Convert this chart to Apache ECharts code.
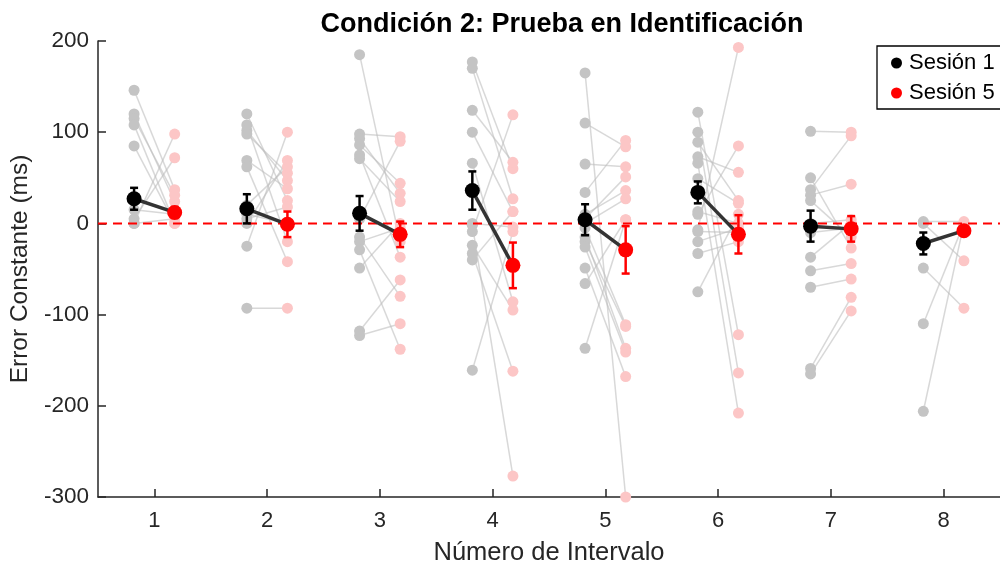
<!DOCTYPE html>
<html>
<head>
<meta charset="utf-8">
<script src="https://cdn.jsdelivr.net/npm/echarts@6/dist/echarts.min.js"></script>
<style>
  html, body { margin: 0; padding: 0; background: #fff; }
  #main { width: 1000px; height: 571px; }
</style>
</head>
<body>
<div id="main"></div>
<script>
// intervalos en el eje x
const intervalos = [1, 2, 3, 4, 5, 6, 7, 8]
const desplazamiento = 0.18

// datos individuales (cada posición = un sujeto, emparejado entre sesiones)
const sesion1 = [
  [146, 120, 115, 108, 85, 15, 5, 0, 0],
  [120, 108, 102, 98, 69, 62, 20, 5, -25, -93, 0, 10],
  [185, 98, 93, 86, 75, 71, 5, -15, -20, -29, -49, -118, -123],
  [177, 170, 124, 100, 66, 0, -2, -9, -24, -33, -40, -161],
  [165, 110, 65, 34, 10, 5, 0, -5, -15, -20, -26, -49, -66, -137],
  [122, 100, 89, 73, 66, 49, 13, 10, -7, -9, -20, -33, -75],
  [101, 50, 37, 31, 25, 0, -10, -37, -52, -70, -159, -165],
  [2, 0, -49, -110, -206]
]
const sesion5 = [
  [37, 24, 31, 0, 0, 10, 72, 98, 5],
  [25, -20, 47, 55, 38, -42, 62, 18, 100, -93, 69, 0],
  [-20, 95, 33, 44, -37, 24, 90, -80, -5, -138, 0, -62, -110],
  [60, 27, 67, 13, -86, -4, -277, 119, -95, -162, 13, -9],
  [-300, 84, 62, 91, 36, 51, 27, -111, -137, -113, -141, -168, 4, 4],
  [-122, -164, 25, 56, -208, 22, 0, 85, 193, -10, -5, -20, 10],
  [100, -27, 96, 43, -15, 4, -5, 0, -44, -61, -81, -96],
  [2, -41, -93, 0, 0]
]

// medias y error estándar
const media1 = [27, 16, 11, 36, 4, 34, -3, -22]
const media5 = [12, -1, -12, -46, -29, -12, -6, -8]
const ee1 = [12, 16, 19, 21, 17, 12, 17, 12]
const ee5 = [6, 14, 14, 25, 26, 21, 14, 4]

const colorEje = '#262626'
const fuente = 'Liberation Sans'

// construir puntos y segmentos
const puntos1 = []
const puntos5 = []
const segmentos = []
intervalos.forEach((x, i) => {
  sesion1[i].forEach((v, j) => {
    const x1 = x - desplazamiento
    const x2 = x + desplazamiento
    puntos1.push([x1, v])
    puntos5.push([x2, sesion5[i][j]])
    segmentos.push([x1, v, x2, sesion5[i][j]])
  })
})
const med1 = intervalos.map((x, i) => [x - desplazamiento, media1[i]])
const med5 = intervalos.map((x, i) => [x + desplazamiento, media5[i]])
const segMedias = intervalos.map((x, i) => [x - desplazamiento, media1[i], x + desplazamiento, media5[i]])
const barras1 = intervalos.map((x, i) => [x - desplazamiento, media1[i] - ee1[i], media1[i] + ee1[i]])
const barras5 = intervalos.map((x, i) => [x + desplazamiento, media5[i] - ee5[i], media5[i] + ee5[i]])

function segmentoRender(color, ancho) {
  return function (params, api) {
    const a = api.coord([api.value(0), api.value(1)])
    const b = api.coord([api.value(2), api.value(3)])
    return {
      type: 'line',
      shape: { x1: a[0], y1: a[1], x2: b[0], y2: b[1] },
      style: { stroke: color, lineWidth: ancho }
    }
  }
}

function barraRender(color) {
  return function (params, api) {
    const lo = api.coord([api.value(0), api.value(1)])
    const hi = api.coord([api.value(0), api.value(2)])
    const w = 4
    return {
      type: 'group',
      children: [
        { type: 'line', shape: { x1: lo[0], y1: lo[1], x2: hi[0], y2: hi[1] }, style: { stroke: color, lineWidth: 2.5 } },
        { type: 'line', shape: { x1: lo[0] - w, y1: lo[1], x2: lo[0] + w, y2: lo[1] }, style: { stroke: color, lineWidth: 2.5 } },
        { type: 'line', shape: { x1: hi[0] - w, y1: hi[1], x2: hi[0] + w, y2: hi[1] }, style: { stroke: color, lineWidth: 2.5 } }
      ]
    }
  }
}

const chart = echarts.init(document.getElementById('main'))
chart.setOption({
  animation: false,
  backgroundColor: '#fff',
  title: {
    text: 'Condición 2: Prueba en Identificación',
    left: 557,
    textAlign: 'center',
    top: 6,
    textStyle: { fontFamily: fuente, fontWeight: 'bold', fontSize: 27, color: '#000' }
  },
  legend: {
    left: 877,
    top: 46,
    orient: 'vertical',
    data: [
      { name: 'Sesión 1', icon: 'circle' },
      { name: 'Sesión 5', icon: 'circle' }
    ],
    itemWidth: 11,
    itemHeight: 11,
    itemGap: 8,
    padding: [6, 10, 5, 14],
    borderColor: '#000',
    borderWidth: 1.3,
    borderRadius: 0,
    backgroundColor: '#fff',
    textStyle: { fontFamily: fuente, fontSize: 22, color: '#000', padding: [0, 0, 0, 2] }
  },
  grid: { left: 98, top: 41, right: -11, bottom: 72, containLabel: false },
  xAxis: {
    type: 'value',
    min: 0.5,
    max: 8.5,
    name: 'Número de Intervalo',
    nameLocation: 'middle',
    nameGap: 43,
    nameTextStyle: { fontFamily: fuente, fontSize: 25.5, color: colorEje },
    axisLine: { onZero: false, lineStyle: { color: colorEje, width: 1.5 } },
    axisTick: { inside: true, length: 8, customValues: intervalos, lineStyle: { color: colorEje, width: 1.5 } },
    axisLabel: { customValues: intervalos, margin: 13, fontFamily: fuente, fontSize: 22, color: colorEje },
    splitLine: { show: false }
  },
  yAxis: {
    type: 'value',
    min: -300,
    max: 200,
    interval: 100,
    name: 'Error Constante (ms)',
    nameLocation: 'middle',
    nameGap: 62,
    nameTextStyle: { fontFamily: fuente, fontSize: 24.5, color: colorEje },
    axisLine: { show: true, onZero: false, lineStyle: { color: colorEje, width: 1.5 } },
    axisTick: { show: true, inside: true, length: 8, lineStyle: { color: colorEje, width: 1.5 } },
    axisLabel: { margin: 9, fontFamily: fuente, fontSize: 22.5, color: colorEje },
    splitLine: { show: false }
  },
  series: [
    {
      type: 'custom',
      silent: true,
      renderItem: segmentoRender('rgba(190,190,190,0.6)', 1.5),
      data: segmentos,
      z: 1
    },
    {
      type: 'scatter',
      silent: true,
      symbolSize: 11,
      itemStyle: { color: '#c4c4c4', opacity: 1 },
      data: puntos1,
      z: 2
    },
    {
      type: 'scatter',
      silent: true,
      symbolSize: 11,
      itemStyle: { color: '#fcc6c6', opacity: 1 },
      data: puntos5,
      z: 2
    },
    {
      type: 'line',
      silent: true,
      symbol: 'none',
      data: [[0.5, 0], [8.5, 0]],
      lineStyle: { color: '#ff0000', width: 2, type: [9, 6] },
      z: 3
    },
    {
      type: 'custom',
      silent: true,
      renderItem: segmentoRender('#333333', 3.5),
      data: segMedias,
      z: 4
    },
    {
      type: 'custom',
      silent: true,
      renderItem: barraRender('#000000'),
      data: barras1,
      z: 5
    },
    {
      type: 'custom',
      silent: true,
      renderItem: barraRender('#ff0000'),
      data: barras5,
      z: 5
    },
    {
      name: 'Sesión 1',
      type: 'scatter',
      symbolSize: 15,
      itemStyle: { color: '#000000', opacity: 1 },
      data: med1,
      z: 6
    },
    {
      name: 'Sesión 5',
      type: 'scatter',
      symbolSize: 15,
      itemStyle: { color: '#ff0000', opacity: 1 },
      data: med5,
      z: 6
    }
  ]
})
</script>
</body>
</html>
